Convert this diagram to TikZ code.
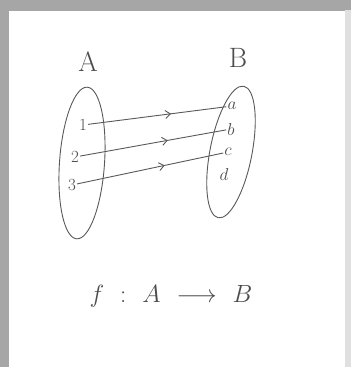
\documentclass[tikz,border=0pt]{standalone}
\usetikzlibrary{arrows.meta,positioning,shapes.geometric,decorations.markings}

\begin{document}
\begin{tikzpicture}[x=1pt, y=-1pt,
  pen/.style={draw=black!65, line width=.9pt},
  setshape/.style={pen, ellipse, inner sep=0pt},
  elem/.style={inner sep=1pt, text=black!70, font=\fontsize{17}{19}\selectfont},
  setname/.style={text=black!70, font=\fontsize{28}{30}\selectfont},
  maps/.style={pen, postaction={decorate}, decoration={markings,
    mark=at position .6 with {\arrow{Straight Barb[length=5pt,width=8pt]}}}}
]
% paper with its shadow
\fill[black!35] (0,0) rectangle (351,367);
\fill[black!12] (345,10) rectangle (351,367);
\fill[white] (9,11) rectangle (345,367);
\useasboundingbox (0,0) rectangle (351,367);

% the two sets
\node[setshape, minimum width=45, minimum height=152, rotate=-4] (setA) at (82,163) {};
\node[setshape, minimum width=42, minimum height=134, rotate=-11] (setB) at (231,152) {};
\node[setname] (lblA) at (88,62) {A};
\node[setname] (lblB) at (238,58) {B};

% elements
\node[elem] (n1) at (83,125) {1};
\node[elem] (n2) at (75,157) {2};
\node[elem] (n3) at (72,185) {3};
\node[elem] (ba) at (232,106) {$a$};
\node[elem] (bb) at (231,129) {$b$};
\node[elem] (bc) at (228,152) {$c$};
\node[elem] (bd) at (224,174) {$d$};

\draw[maps] (n1) -- (ba);
\draw[maps] (n2) -- (bb);
\draw[maps] (n3) -- (bc);

% the function
\node[setname, font=\fontsize{30}{34}\selectfont] (fmap) at (171,296)
  {$f\ :\ A\ \longrightarrow\ B$};
\end{tikzpicture}
\end{document}
